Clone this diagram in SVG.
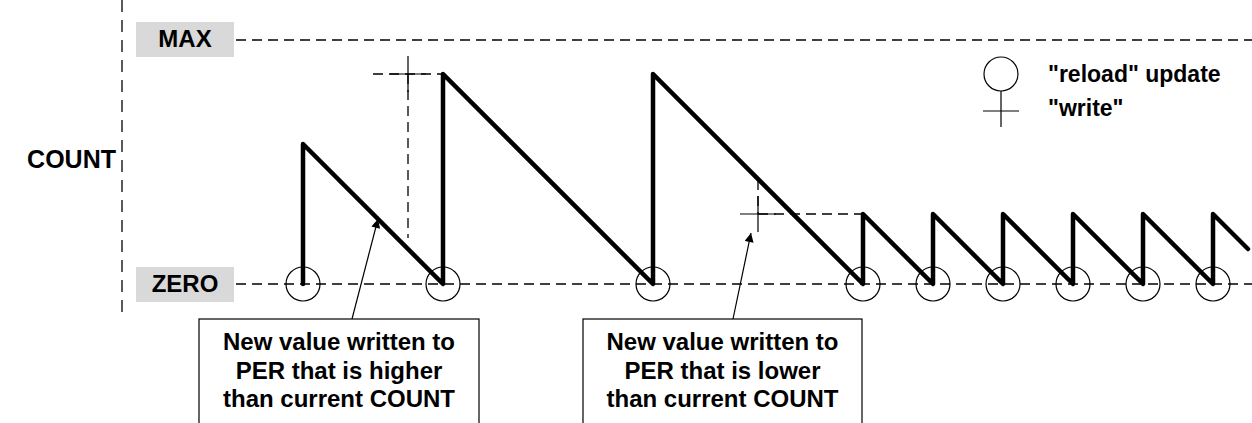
<svg xmlns="http://www.w3.org/2000/svg" width="1252" height="423" viewBox="0 0 1252 423">
<style>
.t{font-family:"Liberation Sans",Arial,sans-serif;font-weight:bold;fill:#000}
.dash{stroke:#000;stroke-width:1.3;fill:none;stroke-dasharray:10,6}
.thin{stroke:#000;stroke-width:1.2;fill:none}
.wave{stroke:#000;stroke-width:4.5;fill:none;stroke-linejoin:round;stroke-linecap:round}
.lbl{fill:#d9d9d9}
.box{fill:#fff;stroke:#000;stroke-width:1.2}
</style>
<defs>
<marker id="ah" viewBox="0 0 10 10" refX="10" refY="5" markerWidth="12" markerHeight="9" markerUnits="userSpaceOnUse" orient="auto">
<path d="M0,0 L10,5 L0,10 z" fill="#000"/>
</marker>
</defs>
<rect width="1252" height="423" fill="#fff"/>
<g id="axis">
<line class="dash" x1="122" y1="0" x2="122" y2="316" style="stroke-dasharray:12,8"/>
<text class="t" x="116" y="168" font-size="25" text-anchor="end">COUNT</text>
</g>
<g id="max">
<rect class="lbl" x="136" y="22" width="98" height="35"/>
<text class="t" x="185" y="47" font-size="24" text-anchor="middle">MAX</text>
<line class="dash" x1="236" y1="40" x2="1252" y2="40"/>
</g>
<g id="zero">
<rect class="lbl" x="136" y="267" width="98" height="35"/>
<text class="t" x="185" y="292" font-size="24" text-anchor="middle">ZERO</text>
<line class="dash" x1="236" y1="284" x2="1252" y2="284"/>
</g>
<g id="guides">
<line class="dash" x1="373" y1="74" x2="443" y2="74"/>
<line class="dash" x1="408" y1="74" x2="408" y2="238"/>
<line class="dash" x1="758" y1="214" x2="863" y2="214"/>
<line class="dash" x1="758" y1="180" x2="758" y2="214"/>
</g>
<g id="count-wave">
<polyline class="wave" points="303,284 303,144 443,284 443,74 653,284 653,74 863,284 863,214 933,284 933,214 1003,284 1003,214 1073,284 1073,214 1143,284 1143,214 1213,284 1213,214 1248,249"/>
</g>
<g id="reloads">
<circle class="thin" cx="303" cy="284" r="17"/>
<circle class="thin" cx="443" cy="284" r="17"/>
<circle class="thin" cx="653" cy="284" r="17"/>
<circle class="thin" cx="863" cy="284" r="17"/>
<circle class="thin" cx="933" cy="284" r="17"/>
<circle class="thin" cx="1003" cy="284" r="17"/>
<circle class="thin" cx="1073" cy="284" r="17"/>
<circle class="thin" cx="1143" cy="284" r="17"/>
<circle class="thin" cx="1213" cy="284" r="17"/>
</g>
<g id="writes">
<path class="thin" d="M390,74 H426 M408,56 V92"/>
<path class="thin" d="M740,214 H776 M758,196 V232"/>
</g>
<g id="legend">
<circle class="thin" cx="1001" cy="74" r="17"/>
<path class="thin" d="M1001,91 V127 M983,111 H1019"/>
<text class="t" x="1048" y="82" font-size="23">"reload" update</text>
<text class="t" x="1048" y="116" font-size="23">"write"</text>
</g>
<g id="connectors">
<line class="thin" x1="352" y1="319" x2="378" y2="219" marker-end="url(#ah)"/>
<line class="thin" x1="733" y1="319" x2="751" y2="233" marker-end="url(#ah)"/>
</g>
<g id="note-higher">
<rect class="box" x="199" y="319" width="280" height="110"/>
<text class="t" font-size="24" text-anchor="middle"><tspan x="339" y="350">New value written to</tspan><tspan x="339" y="379">PER that is higher</tspan><tspan x="339" y="407">than current COUNT</tspan></text>
</g>
<g id="note-lower">
<rect class="box" x="583" y="319" width="279" height="110"/>
<text class="t" font-size="24" text-anchor="middle"><tspan x="722.5" y="350">New value written to</tspan><tspan x="722.5" y="379">PER that is lower</tspan><tspan x="722.5" y="407">than current COUNT</tspan></text>
</g>
</svg>
